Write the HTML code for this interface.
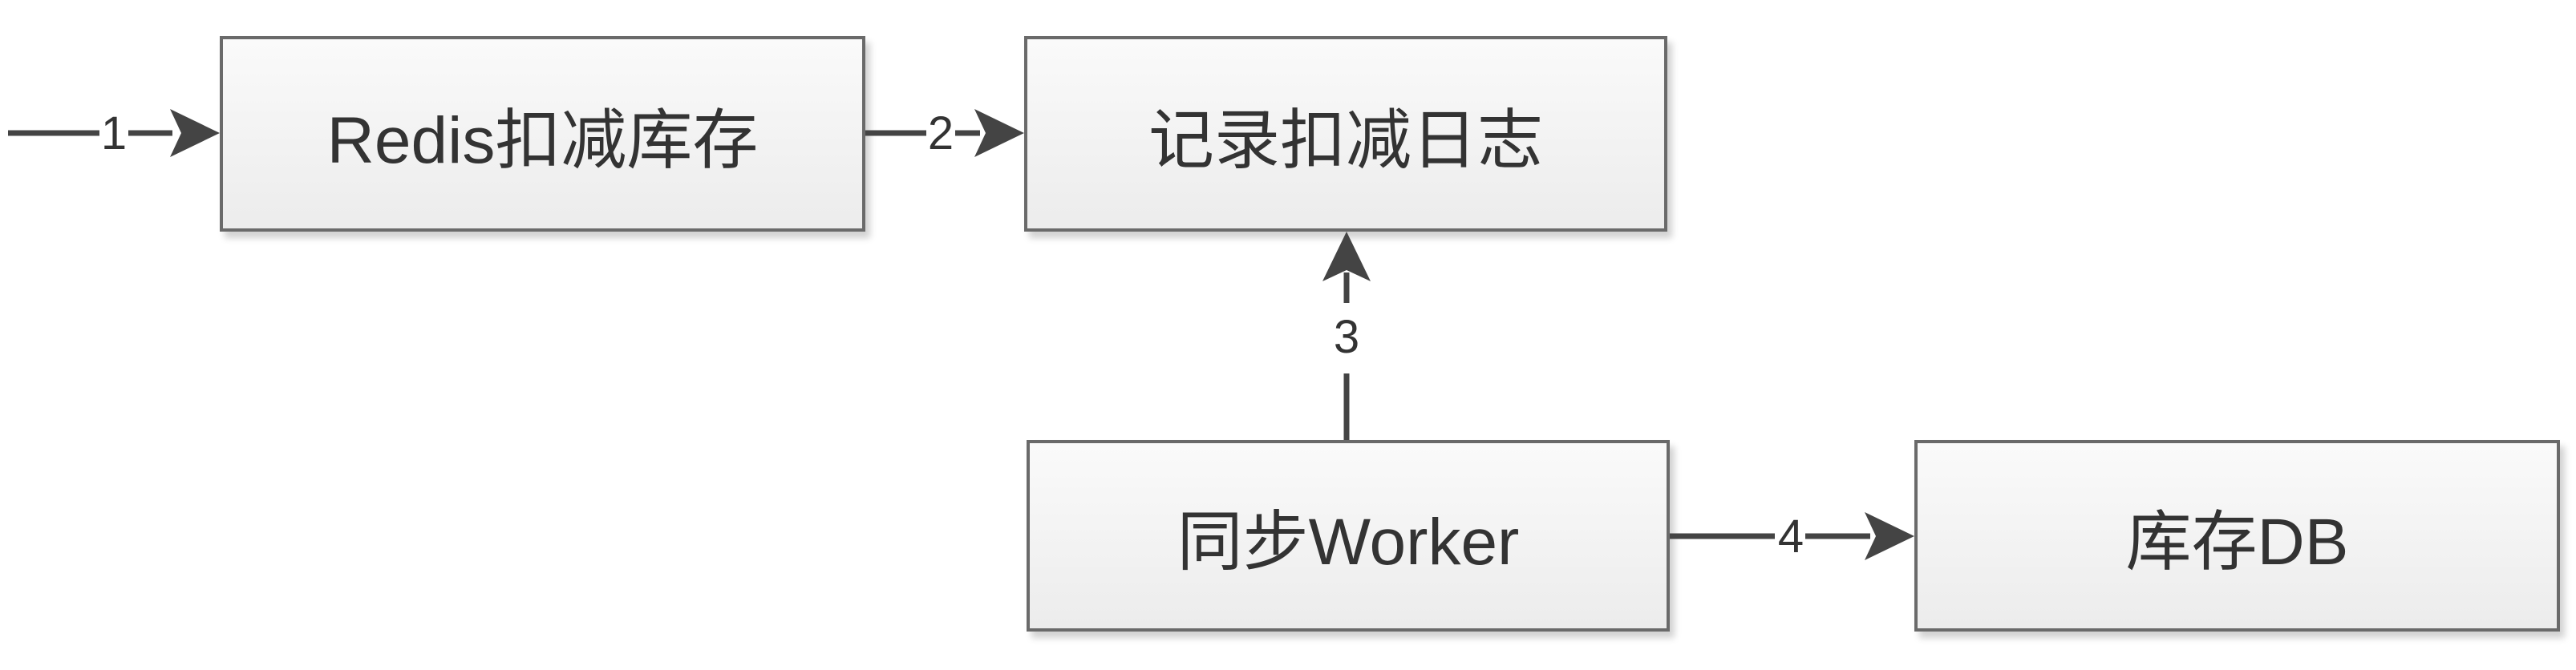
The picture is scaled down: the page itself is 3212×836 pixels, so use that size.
<!DOCTYPE html>
<html><head><meta charset="utf-8"><style>
html,body{margin:0;padding:0;background:#fff;}
body{width:3212px;height:836px;overflow:hidden;position:relative;font-family:"Liberation Sans","Noto Sans CJK SC",sans-serif;}
.b{position:absolute;box-sizing:border-box;border:4px solid #6a6a6a;background:linear-gradient(#fafafa,#ececec);box-shadow:6px 8px 8px rgba(0,0,0,0.18);display:flex;align-items:center;justify-content:center;font-size:82px;color:#333;}
svg{position:absolute;left:0;top:0;}
</style></head><body>
<div class="b" style="left:274px;top:45px;width:805px;height:244px;">Redis扣减库存</div>
<div class="b" style="left:1277px;top:45px;width:802px;height:244px;">记录扣减日志</div>
<div class="b" style="left:1280px;top:549px;width:802px;height:239px;">同步Worker</div>
<div class="b" style="left:2387px;top:549px;width:805px;height:239px;">库存DB</div>
<svg width="3212" height="836">
<g stroke="#444" stroke-width="7" fill="none">
<line x1="10" y1="166" x2="124" y2="166"/><line x1="160" y1="166" x2="215" y2="166"/>
<line x1="1079" y1="166" x2="1155" y2="166"/><line x1="1191" y1="166" x2="1222" y2="166"/>
<line x1="1679" y1="549" x2="1679" y2="466"/><line x1="1679" y1="378" x2="1679" y2="340"/>
<line x1="2082" y1="669" x2="2213" y2="669"/><line x1="2251" y1="669" x2="2332" y2="669"/>
</g>
<g fill="#444">
<polygon points="274,166 212,136 226,166 212,196"/>
<polygon points="1277,166 1215,136 1229,166 1215,196"/>
<polygon points="1679,289 1649,351 1679,337 1709,351"/>
<polygon points="2387,669 2325,639 2339,669 2325,699"/>
</g>
<g font-family="Liberation Sans,sans-serif" font-size="58" fill="#333" text-anchor="middle">
<text x="142" y="186">1</text>
<text x="1173" y="186">2</text>
<text x="1679" y="440">3</text>
<text x="2233" y="689">4</text>
</g>
</svg>
</body></html>
